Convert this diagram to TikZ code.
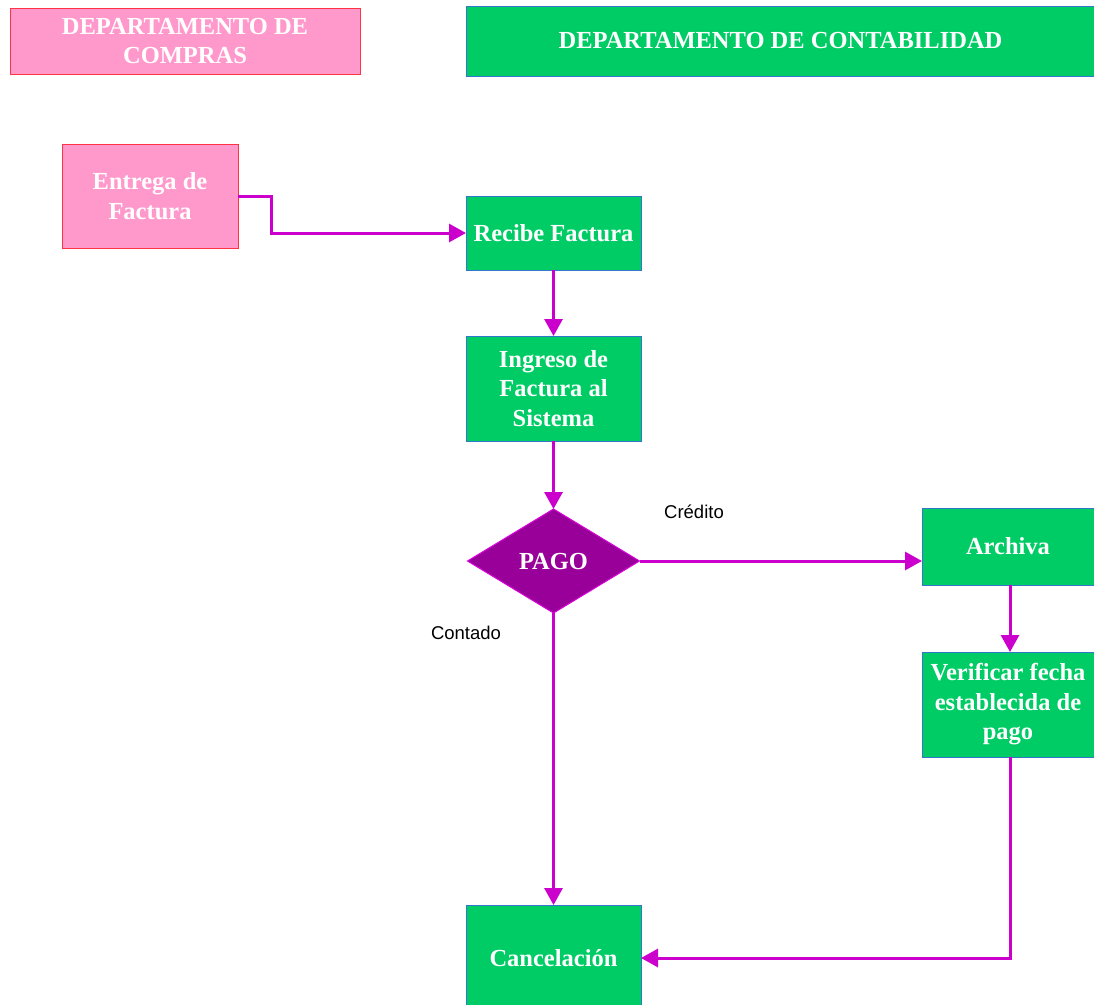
\documentclass[tikz,border=0pt]{standalone}
\usepackage{fontspec}
\setmainfont{Liberation Serif}
\newfontfamily\labelfont{Liberation Sans}
\usetikzlibrary{shapes.geometric,arrows.meta}

\definecolor{pinkfill}{HTML}{FF99CC}
\definecolor{pinkline}{HTML}{FF3344}
\definecolor{greenfill}{HTML}{00CC66}
\definecolor{blueline}{HTML}{3377CC}
\definecolor{pagofill}{HTML}{990099}
\definecolor{flowline}{HTML}{CC00CC}

\tikzset{
  boxtext/.style={text=white, font=\fontsize{24.5}{29.5}\selectfont\bfseries, align=center,
                  inner sep=0pt, outer sep=0pt},
  pinkbox/.style={boxtext, rectangle, fill=pinkfill, draw=pinkline, line width=1pt},
  greenbox/.style={boxtext, rectangle, fill=greenfill, draw=blueline, line width=0.8pt},
  pagobox/.style={boxtext, diamond, fill=pagofill, draw=flowline!70!magenta, line width=1pt},
  flow/.style={draw=flowline, line width=3pt,
               -{Triangle[length=17pt,width=18pt]}},
  branchlabel/.style={font=\labelfont\fontsize{18.5}{22}\selectfont, text=black, inner sep=0pt}
}

\begin{document}
\begin{tikzpicture}[x=1pt,y=-1pt]
  \useasboundingbox (0,0) rectangle (1094,1004);

  % department headers
  \node[pinkbox, minimum width=350pt, minimum height=66pt] (compras) at (185,41)
    {DEPARTAMENTO DE\\COMPRAS};
  \node[greenbox, minimum width=629pt, minimum height=70pt] (conta) at (780.5,41)
    {DEPARTAMENTO DE CONTABILIDAD};

  % process steps
  \node[pinkbox, minimum width=176pt, minimum height=104pt] (entrega) at (150,196)
    {Entrega de\\Factura};
  \node[greenbox, minimum width=175pt, minimum height=74pt] (recibe) at (553.5,233)
    {Recibe Factura};
  \node[greenbox, minimum width=175pt, minimum height=105pt] (ingreso) at (553.5,388.5)
    {Ingreso de\\Factura al\\Sistema};
  \node[pagobox, minimum width=172pt, minimum height=104pt] (pago) at (553.5,561)
    {PAGO};
  \node[greenbox, minimum width=172pt, minimum height=77pt] (archiva) at (1008,546.5)
    {Archiva};
  \node[greenbox, minimum width=172pt, minimum height=105pt] (verificar) at (1008,704.5)
    {Verificar fecha\\establecida de\\pago};
  \node[greenbox, minimum width=175pt, minimum height=106pt] (cancel) at (553.5,958)
    {Cancelación};

  % branch labels
  \node[branchlabel] (credito) at (694,512) {Crédito};
  \node[branchlabel] (contado) at (466,633) {Contado};

  % connectors
  \draw[flow] (entrega.east) -- ++(33,0) |- (recibe.west);
  \draw[flow] (recibe.south) -- (ingreso.north);
  \draw[flow] (ingreso.south) -- (pago.north);
  \draw[flow] (pago.east) -- (pago.east -| archiva.west);
  \draw[flow] ([xshift=2pt]archiva.south) -- ([xshift=2pt]verificar.north);
  \draw[flow] ([xshift=2pt]verificar.south) |- (cancel.east);
  \draw[flow] (pago.south) -- (cancel.north);
\end{tikzpicture}
\end{document}
